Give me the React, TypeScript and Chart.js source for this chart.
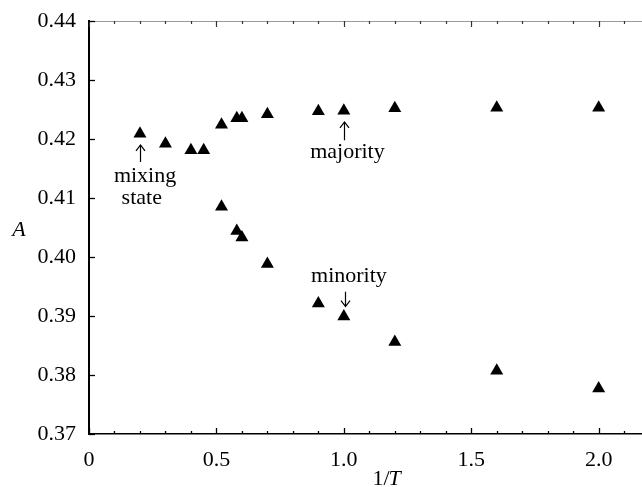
import React, { useEffect, useRef } from "react";
import { Chart, registerables } from "chart.js";

Chart.register(...registerables);

const majorityX = [0.2, 0.3, 0.4, 0.45, 0.52, 0.58, 0.6, 0.7, 0.9, 1.0, 1.2, 1.6, 2.0];
const majorityA = [0.4209, 0.4192, 0.4181, 0.4181, 0.4224, 0.4235, 0.4235, 0.4242, 0.4247, 0.4248, 0.4252, 0.4253, 0.4253];
const minorityX = [0.52, 0.58, 0.6, 0.7, 0.9, 1.0, 1.2, 1.6, 2.0];
const minorityA = [0.4085, 0.4044, 0.4033, 0.3988, 0.3921, 0.3899, 0.3856, 0.3807, 0.3777];

const xTickValues = [0, 0.5, 1.0, 1.5, 2.0];
const xTickLabels = ["0", "0.5", "1.0", "1.5", "2.0"];
const yTickValues = [0.37, 0.38, 0.39, 0.40, 0.41, 0.42, 0.43, 0.44];
const yTickLabels = ["0.37", "0.38", "0.39", "0.40", "0.41", "0.42", "0.43", "0.44"];

const X_MIN = 0;
const X_MAX = 2.17;
const Y_MIN = 0.37;
const Y_MAX = 0.44;

const SERIF = "'Liberation Serif', 'Times New Roman', serif";
const FONT_SIZE = 22;

// annotation texts (data coords) and arrows
const annotationTexts = [
  { text: "mixing", x: 0.22, y: 0.4137 },
  { text: "state", x: 0.207, y: 0.4100 },
  { text: "majority", x: 1.014, y: 0.4177 },
  { text: "minority", x: 1.02, y: 0.3967 },
];
const annotationArrows = [
  { x: 0.2, from: 0.4161, to: 0.4190 },
  { x: 1.0, from: 0.4198, to: 0.4229 },
  { x: 1.004, from: 0.3941, to: 0.3916 },
];

const decorPlugin = {
  id: "decor",
  afterDraw(chart: any) {
    const { ctx, chartArea, scales } = chart;
    const { left, right, top, bottom } = chartArea;
    const x = scales.x;
    const y = scales.y;
    ctx.save();
    // top frame line
    ctx.strokeStyle = "#999";
    ctx.lineWidth = 1;
    ctx.beginPath();
    ctx.moveTo(left, top + 0.5);
    ctx.lineTo(right, top + 0.5);
    ctx.stroke();
    // x ticks (minor every 0.1)
    for (let i = 0; i * 0.1 <= X_MAX + 1e-9; i++) {
      const v = i / 10;
      const px = Math.round(x.getPixelForValue(v)) + 0.5;
      const major = i % 5 === 0;
      const len = major ? 6 : 3;
      ctx.strokeStyle = "#000";
      ctx.lineWidth = 1.3;
      ctx.beginPath();
      ctx.moveTo(px, bottom);
      ctx.lineTo(px, bottom - len);
      ctx.stroke();
      ctx.strokeStyle = "#333";
      ctx.lineWidth = 1.2;
      ctx.beginPath();
      ctx.moveTo(px, top);
      ctx.lineTo(px, top + len);
      ctx.stroke();
    }
    // y ticks
    ctx.strokeStyle = "#000";
    ctx.lineWidth = 1.3;
    for (const v of yTickValues) {
      const py = Math.round(y.getPixelForValue(v)) + 0.5;
      ctx.beginPath();
      ctx.moveTo(left, py);
      ctx.lineTo(left + 6, py);
      ctx.stroke();
    }
    // annotations
    ctx.fillStyle = "#000";
    ctx.font = `${FONT_SIZE}px ${SERIF}`;
    ctx.textAlign = "center";
    ctx.textBaseline = "middle";
    for (const a of annotationTexts) {
      ctx.fillText(a.text, x.getPixelForValue(a.x), y.getPixelForValue(a.y));
    }
    ctx.lineWidth = 1.2;
    for (const a of annotationArrows) {
      const px = Math.round(x.getPixelForValue(a.x)) + 0.5;
      const p0 = y.getPixelForValue(a.from);
      const p1 = y.getPixelForValue(a.to);
      const dir = p1 < p0 ? 1 : -1;
      ctx.beginPath();
      ctx.moveTo(px, p0);
      ctx.lineTo(px, p1);
      ctx.moveTo(px - 4.5, p1 + dir * 6);
      ctx.lineTo(px, p1);
      ctx.lineTo(px + 4.5, p1 + dir * 6);
      ctx.stroke();
    }
    // axis titles
    ctx.font = `italic ${FONT_SIZE}px ${SERIF}`;
    ctx.textAlign = "center";
    ctx.fillText("A", left - 70, y.getPixelForValue(0.4045));
    ctx.font = `${FONT_SIZE}px ${SERIF}`;
    const cx = x.getPixelForValue(1.17);
    const cy = bottom + 45;
    const w1 = ctx.measureText("1/").width;
    ctx.font = `italic ${FONT_SIZE}px ${SERIF}`;
    const w2 = ctx.measureText("T").width;
    const start = cx - (w1 + w2) / 2;
    ctx.textAlign = "left";
    ctx.font = `${FONT_SIZE}px ${SERIF}`;
    ctx.fillText("1/", start, cy);
    ctx.font = `italic ${FONT_SIZE}px ${SERIF}`;
    ctx.fillText("T", start + w1 - 1, cy);
    ctx.restore();
  },
};

export default function App() {
  const ref = useRef<HTMLCanvasElement | null>(null);
  useEffect(() => {
    document.body.style.margin = "0";
    const canvas = ref.current;
    if (!canvas) return;
    const chart = new Chart(canvas, {
      type: "scatter",
      data: {
        datasets: [
          {
            label: "majority",
            data: majorityX.map((v, i) => ({ x: v, y: majorityA[i] })),
            pointStyle: "triangle",
            pointRadius: 7.5,
            backgroundColor: "#000",
            borderColor: "#000",
            borderWidth: 0,
          },
          {
            label: "minority",
            data: minorityX.map((v, i) => ({ x: v, y: minorityA[i] })),
            pointStyle: "triangle",
            pointRadius: 7.5,
            backgroundColor: "#000",
            borderColor: "#000",
            borderWidth: 0,
          },
        ],
      },
      options: {
        animation: false,
        responsive: false,
        maintainAspectRatio: false,
        layout: { autoPadding: false, padding: { left: 0, right: 0, top: 21, bottom: 0 } },
        plugins: { legend: { display: false }, tooltip: { enabled: false } },
        scales: {
          x: {
            type: "linear",
            position: "bottom",
            min: X_MIN,
            max: X_MAX,
            grid: { display: false, drawTicks: false },
            border: { display: true, color: "#000", width: 1.6 },
            afterFit: (s: any) => {
              s.height = 53;
              s.paddingLeft = 0;
              s.paddingRight = 0;
            },
            afterBuildTicks: (s: any) => {
              s.ticks = xTickValues.map((v) => ({ value: v }));
            },
            ticks: {
              padding: 13,
              color: "#000",
              maxRotation: 0,
              autoSkip: false,
              font: { family: SERIF, size: FONT_SIZE },
              callback: (v: any) => {
                const i = xTickValues.findIndex((t) => Math.abs(t - v) < 1e-9);
                return i >= 0 ? xTickLabels[i] : "";
              },
            },
          },
          y: {
            type: "linear",
            position: "left",
            min: Y_MIN,
            max: Y_MAX,
            grid: { display: false, drawTicks: false },
            border: { display: true, color: "#000", width: 2 },
            afterFit: (s: any) => {
              s.width = 89;
              s.paddingTop = 0;
              s.paddingBottom = 0;
            },
            afterBuildTicks: (s: any) => {
              s.ticks = yTickValues.map((v) => ({ value: v }));
            },
            ticks: {
              padding: 13,
              color: "#000",
              autoSkip: false,
              font: { family: SERIF, size: FONT_SIZE },
              callback: (v: any) => {
                const i = yTickValues.findIndex((t) => Math.abs(t - v) < 1e-9);
                return i >= 0 ? yTickLabels[i] : "";
              },
            },
          },
        },
      },
      plugins: [decorPlugin],
    });
    return () => chart.destroy();
  }, []);
  return (
    <div style={{ position: "absolute", left: 0, top: 0, width: 642, height: 487 }}>
      <canvas ref={ref} width={642} height={487} />
    </div>
  );
}
